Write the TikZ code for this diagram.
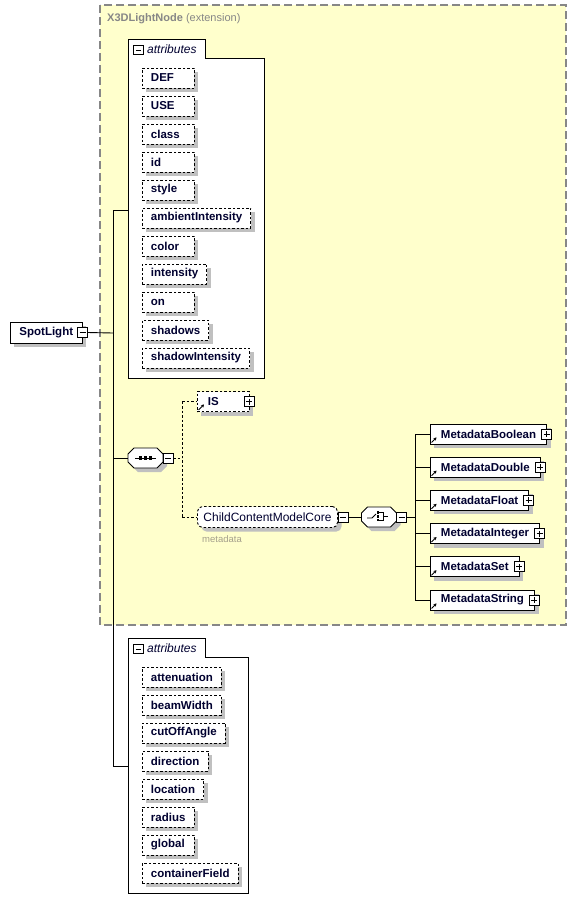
\documentclass[tikz,border=0pt]{standalone}
\usepackage{fontspec}
\setmainfont{Liberation Sans}
\usetikzlibrary{shadows,arrows.meta}
\definecolor{ylw}{RGB}{255,255,204}
\definecolor{shg}{RGB}{192,192,192}
\definecolor{brd}{RGB}{135,135,135}
\definecolor{txt}{RGB}{0,0,48}
\definecolor{metac}{RGB}{165,160,140}
\newcommand\lbx[2]{\sbox0{#2}\ifdim\wd0<#1\makebox[#1][l]{#2}\else\usebox0\fi}
\newcommand\octnode[3]{%
  \path[octa,shd,shift={(#2,#3)}] (-11.5,-10) -- (11.5,-10) -- (17.5,-4) -- (17.5,4) -- (11.5,10) -- (-11.5,10) -- (-17.5,4) -- (-17.5,-4) -- cycle;
  \node[minimum width=35pt,minimum height=20pt,inner sep=0pt,outer sep=0pt] (#1) at (#2,#3) {};}
\begin{document}
\begin{tikzpicture}[x=1pt,y=-1pt,
  shd/.style={copy shadow={shadow xshift=4pt,shadow yshift=-4pt,fill=shg,draw=none}},
  bfnt/.style={font=\bfseries\fontsize{11.5}{13}\selectfont},
  attr/.style={shd,bfnt,draw=black,dash pattern=on 2.5pt off 2pt,fill=white,line width=0.9pt,minimum height=20pt,minimum width=52pt,inner xsep=8.5pt,inner ysep=0pt,anchor=west,text=txt},
  refattr/.style={attr,inner xsep=10.5pt},
  refbox/.style={refattr,solid},
  pm/.style={draw=black,fill=white,line width=0.8pt,minimum size=10pt,inner sep=0pt,outer sep=0pt},
  minusbox/.style={pm,path picture={\draw[line width=0.8pt] ([xshift=2pt]path picture bounding box.west) -- ([xshift=-2pt]path picture bounding box.east);}},
  plusbox/.style={pm,path picture={\draw[line width=0.8pt] ([xshift=2pt]path picture bounding box.west) -- ([xshift=-2pt]path picture bounding box.east) ([yshift=-2pt]path picture bounding box.north) -- ([yshift=2pt]path picture bounding box.south);}},
  conn/.style={line width=0.9pt,draw=black},
  dconn/.style={conn,dash pattern=on 2.5pt off 2pt},
  cont/.style={draw=black,fill=white,line width=0.9pt},
  octa/.style={draw=black,fill=white,line width=0.9pt},
  refarr/.style={line width=0.9pt,-{Stealth[length=3pt,width=3.4pt]}},
  tabtxt/.style={anchor=west,inner sep=0pt,text=txt,font=\itshape\fontsize{12}{14}\selectfont},
]
\useasboundingbox[fill=white] (0,0) rectangle (577,913);
% extension region
\path[draw=brd,fill=ylw,line width=1.2pt,dash pattern=on 8pt off 4pt] (100,5) rectangle (566,625);
\node[anchor=west,inner sep=0pt,text=brd,font=\fontsize{11}{13}\selectfont] (title) at (107,19) {\textbf{X3DLightNode} (extension)};

% attributes container 1
\path[cont] (128,39) -- (205,39) -- (205,58) -- (264,58) -- (264,378) -- (128,378) -- cycle;
\node[minusbox,minimum size=9.5pt] (t1m) at (138.5,50) {};
\node[tabtxt] (t1) at (147,49.5) {attributes};
\coordinate (att1w) at (128,210);
\foreach \t [count=\i from 0] in {DEF,USE,class,id,style,ambientIntensity,color,intensity,on,shadows,shadowIntensity}
  \node[attr] (a\i) at (142,78+28*\i) {\lbx{35pt}{\t}};

% attributes container 2
\path[cont] (128,638) -- (205,638) -- (205,657) -- (248,657) -- (248,893) -- (128,893) -- cycle;
\node[minusbox,minimum size=9.5pt] (t2m) at (138.5,649) {};
\node[tabtxt] (t2) at (147,648.5) {attributes};
\coordinate (att2w) at (128,766);
\foreach \t [count=\i from 0] in {attenuation,beamWidth,cutOffAngle,direction,location,radius,global,containerField}
  \node[attr] (b\i) at (142,677+28*\i) {\lbx{35pt}{\t}};

% root element
\node[shd,bfnt,draw=black,fill=white,line width=0.9pt,minimum height=21pt,inner xsep=9pt,inner ysep=0pt,anchor=west,text=txt] (sl) at (10,332.5) {SpotLight\hspace{3pt}};
\node[minusbox] (slm) at (sl.east) {};
\coordinate (trunk) at (113,333);

% sequence
\octnode{seq}{145.5}{458}
\draw[line width=0.9pt] ([xshift=-10.5pt]seq.center) -- ([xshift=10.5pt]seq.center);
\foreach \dx in {-5,0,5} \fill ([xshift=\dx pt]seq.center) +(-1.6,-1.6) rectangle +(1.6,1.6);
\node[minusbox,anchor=west] (seqm) at (seq.east) {};
\coordinate (dj) at (182,458);

% IS
\node[refattr] (is) at (197,401.5) {\lbx{31pt}{IS}};
\node[plusbox] (isp) at ([xshift=-1pt]is.east) {};
\draw[refarr] ([xshift=1.5pt,yshift=2pt]is.south west) -- ++(5.5,-5.5);

% ChildContentModelCore
\node[shd,draw=black,dash pattern=on 2.5pt off 2pt,fill=white,rounded corners=5pt,line width=0.9pt,minimum height=21pt,inner xsep=6pt,inner ysep=0pt,anchor=west,text=txt,font=\fontsize{12}{14}\selectfont] (ccm) at (197,517) {ChildContentModelCore};
\node[minusbox,anchor=west] (ccmm) at (ccm.east) {};
\node[anchor=west,inner sep=0pt,text=metac,font=\fontsize{9.5}{11}\selectfont] (mdl) at (202,539) {metadata};

% choice
\octnode{cho}{379}{517}
\begin{scope}[shift={(cho.center)},line width=0.9pt]
  \draw (-12,1) -- (-7,1) -- (-3,-3);
  \fill (-2.4,-5.6) rectangle (0.4,-3.2);
  \fill (-2.4,-1.8) rectangle (0.4,0.6);
  \fill (-2.4,2) rectangle (0.4,4.4);
  \draw (0.4,-4.4) -- (4.5,-4.4) -- (4.5,3.2) -- (0.4,3.2);
  \draw (4.5,-0.6) -- (8.5,-0.6);
\end{scope}
\node[minusbox,anchor=west] (chom) at (cho.east) {};
\coordinate (mj) at (415,517);

% metadata elements
\foreach \t [count=\i from 0] in {Boolean,Double,Float,Integer,Set,String} {
  \node[refbox] (m\i) at (430,434+33.2*\i) {\lbx{31pt}{Metadata\t}};
  \node[plusbox] (mp\i) at ([xshift=-0.5pt]m\i.east) {};
  \draw[refarr] ([xshift=1.5pt,yshift=2pt]m\i.south west) -- ++(5,-5);
  \draw[conn] (mj |- m\i.west) -- (m\i.west);
}

% connectors
\draw[conn] (slm.east) -- (trunk);
\draw[conn] (trunk |- att1w) -- (trunk |- att2w);
\draw[conn] (trunk |- att1w) -- (att1w);
\draw[conn] (trunk |- seq.west) -- (seq.west);
\draw[conn] (trunk |- att2w) -- (att2w);
\draw[dconn] (seqm.east) -- (dj);
\draw[dconn] (dj |- is.west) -- (dj |- ccm.west);
\draw[dconn] (dj |- is.west) -- (is.west);
\draw[dconn] (dj |- ccm.west) -- (ccm.west);
\draw[conn] (ccmm.east) -- (cho.west);
\draw[conn] (chom.east) -- (mj);
\draw[conn] (mj |- m0.west) -- (mj |- m5.west);
\end{tikzpicture}
\end{document}
